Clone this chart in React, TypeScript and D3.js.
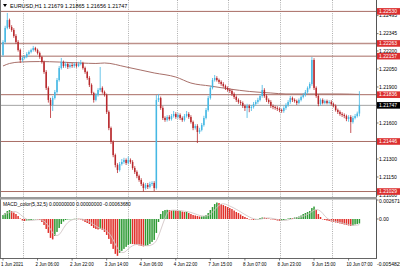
import React from "react";
import * as d3 from "d3";

const W = 400;
const H = 270;

const titleText = "EURUSD,H1  1.21679 1.21865 1.21656 1.21747";
const macdTitle = "MACD_color(5,32,5) 0.00000000 0.00000000 -0.00063680";

const firstOpen = 1.22167;
const closes = [
  1.22275, 1.22392, 1.22458, 1.224, 1.22375, 1.22325, 1.22275, 1.22208, 1.22125, 1.22142,
  1.2215, 1.22175, 1.22192, 1.22208, 1.22225, 1.22208, 1.22183, 1.2215, 1.22108, 1.22025,
  1.21892, 1.21792, 1.2175, 1.21808, 1.21858, 1.21958, 1.22058, 1.22108, 1.22075, 1.22092,
  1.22067, 1.22083, 1.22075, 1.22092, 1.22075, 1.22092, 1.221, 1.22058, 1.22025, 1.21975,
  1.21917, 1.2185, 1.21792, 1.21833, 1.21875, 1.21892, 1.21858, 1.21833, 1.21692, 1.21558,
  1.21442, 1.21333, 1.2125, 1.21208, 1.21258, 1.21275, 1.21292, 1.21267, 1.21292, 1.21275,
  1.21225, 1.21192, 1.21158, 1.21125, 1.21092, 1.21058, 1.21083, 1.21067, 1.21092, 1.211,
  1.21058, 1.21792, 1.21808, 1.21725, 1.21642, 1.21625, 1.2165, 1.21633, 1.21658, 1.21675,
  1.2165, 1.21667, 1.21642, 1.21625, 1.21658, 1.21675, 1.2165, 1.21608, 1.21558, 1.21575,
  1.21525, 1.21542, 1.21583, 1.21642, 1.21708, 1.21808, 1.21892, 1.21958, 1.21975, 1.21958,
  1.21942, 1.21925, 1.21908, 1.21892, 1.21875, 1.21867, 1.21842, 1.21817, 1.21792, 1.21775,
  1.21767, 1.21742, 1.21725, 1.21742, 1.21725, 1.21733, 1.21758, 1.21775, 1.21792, 1.21825,
  1.21875, 1.21825, 1.21792, 1.21775, 1.21742, 1.21733, 1.21725, 1.21717, 1.21708, 1.217,
  1.21725, 1.2175, 1.21775, 1.21808, 1.21792, 1.21783, 1.21767, 1.21792, 1.21817, 1.21833,
  1.21858, 1.21892, 1.21925, 1.22125, 1.21892, 1.21825, 1.21758, 1.21792, 1.21767, 1.21783,
  1.21767, 1.21775, 1.21758, 1.21742, 1.21708, 1.21692, 1.21675, 1.21667, 1.21658, 1.21633,
  1.2165, 1.21608, 1.21642, 1.21658, 1.21679, 1.21747,
];
const highs = [
  1.2229, 1.2241, 1.22517, 1.2247, 1.22415, 1.2239, 1.2234, 1.2229, 1.2222, 1.22155,
  1.22165, 1.2219, 1.22205, 1.2222, 1.22242, 1.22235, 1.2222, 1.22195, 1.2216, 1.2212,
  1.2204, 1.21905, 1.2181, 1.21825, 1.21875, 1.21975, 1.22075, 1.22142, 1.2212, 1.2211,
  1.22105, 1.221, 1.221, 1.22105, 1.22105, 1.2211, 1.22125, 1.2211, 1.2207, 1.22035,
  1.2199, 1.2193, 1.2186, 1.2185, 1.2189, 1.22067, 1.21905, 1.2187, 1.21845, 1.21705,
  1.2157, 1.21455, 1.21345, 1.21265, 1.21275, 1.213, 1.2131, 1.21305, 1.2132, 1.21305,
  1.2129, 1.2124, 1.21205, 1.2117, 1.2114, 1.21105, 1.211, 1.211, 1.2111, 1.21115,
  1.21115, 1.21833, 1.21842, 1.2182, 1.2174, 1.21655, 1.21665, 1.21665, 1.21675, 1.217,
  1.2169, 1.21685, 1.2168, 1.21655, 1.21675, 1.217, 1.2169, 1.21665, 1.2162, 1.2159,
  1.2159, 1.2156, 1.216, 1.2166, 1.21725, 1.21825, 1.2191, 1.21975, 1.22, 1.2199,
  1.2197, 1.21955, 1.2194, 1.2192, 1.21905, 1.2189, 1.2188, 1.21855, 1.2183, 1.21805,
  1.2179, 1.2178, 1.21755, 1.2176, 1.21755, 1.2175, 1.21775, 1.2179, 1.2181, 1.2184,
  1.21917, 1.2189, 1.2184, 1.21805, 1.2179, 1.21755, 1.21745, 1.2174, 1.2173, 1.2172,
  1.2174, 1.21765, 1.2179, 1.21825, 1.2182, 1.21805, 1.21795, 1.21805, 1.2183, 1.2185,
  1.21875, 1.21905, 1.2194, 1.2215, 1.2214, 1.21905, 1.2184, 1.21805, 1.21805, 1.21795,
  1.21795, 1.2179, 1.2179, 1.2177, 1.21755, 1.2172, 1.21705, 1.2169, 1.2168, 1.2167,
  1.21665, 1.21665, 1.2166, 1.21675, 1.21695, 1.21865,
];
const lows = [
  1.2215, 1.2226, 1.2238, 1.22385, 1.2236, 1.2231, 1.2226, 1.22195, 1.221, 1.2211,
  1.2213, 1.2214, 1.22165, 1.2218, 1.22195, 1.22195, 1.2217, 1.22135, 1.22095, 1.2201,
  1.21875, 1.2177, 1.21642, 1.217, 1.21795, 1.21845, 1.21945, 1.22045, 1.2206, 1.2206,
  1.2205, 1.22055, 1.2206, 1.2206, 1.2206, 1.22065, 1.2208, 1.22045, 1.2201, 1.2196,
  1.219, 1.21835, 1.2177, 1.2178, 1.2182, 1.2186, 1.21845, 1.2182, 1.21675, 1.2154,
  1.21425, 1.21315, 1.2123, 1.21183, 1.21195, 1.21245, 1.2126, 1.2125, 1.21255, 1.2126,
  1.2121, 1.21175, 1.2114, 1.2111, 1.21075, 1.21029, 1.21045, 1.2105, 1.21055, 1.21075,
  1.21033, 1.21045, 1.21775, 1.2171, 1.21625, 1.2161, 1.21612, 1.2162, 1.2162, 1.21645,
  1.21635, 1.21635, 1.21625, 1.2161, 1.21612, 1.21645, 1.21635, 1.21595, 1.2154, 1.21545,
  1.21433, 1.2151, 1.2153, 1.2157, 1.2163, 1.21695, 1.21795, 1.2188, 1.21945, 1.21945,
  1.21925, 1.2191, 1.21895, 1.21875, 1.2186, 1.2185, 1.21825, 1.218, 1.21775, 1.2176,
  1.2175, 1.21725, 1.217, 1.21642, 1.2169, 1.217, 1.2172, 1.21745, 1.2176, 1.2178,
  1.2181, 1.2181, 1.21775, 1.2176, 1.21725, 1.21715, 1.2171, 1.217, 1.2169, 1.21685,
  1.21685, 1.2171, 1.21735, 1.2176, 1.21775, 1.2177, 1.2175, 1.21755, 1.2178, 1.21805,
  1.2182, 1.21845, 1.2188, 1.2191, 1.21875, 1.2181, 1.2174, 1.21745, 1.21755, 1.21755,
  1.21755, 1.21755, 1.21745, 1.2173, 1.21695, 1.21675, 1.2166, 1.2165, 1.2164, 1.21615,
  1.2161, 1.21517, 1.21595, 1.2163, 1.21645, 1.21656,
];

const maBars = [0, 3, 8, 17, 26, 36, 43, 47, 57, 70, 80, 87, 96, 105, 114, 124, 131, 142, 156, 165];
const maValues = [
  1.22075, 1.22096, 1.22108, 1.22112, 1.22108, 1.221, 1.22096, 1.221, 1.22067, 1.22017,
  1.21983, 1.21933, 1.21908, 1.21883, 1.21863, 1.2185, 1.21842, 1.21842, 1.21842, 1.21838,
];

const macdValues = [
  0.00056, 0.00084, 0.00112, 0.00126, 0.00112, 0.00091, 0.0007, 0.00042, 0.00007, -0.00021,
  -0.00028, -0.00021, -0.0002, -0.00014, -0.00007, -0.00004, -0.00007, -0.00014, -0.00042, -0.00084,
  -0.0014, -0.00196, -0.00266, -0.00287, -0.00238, -0.00182, -0.00126, -0.0007, -0.00035, -0.00014,
  -0.00007, -0.00004, 0.0, 0.00003, 0.00004, 0.00003, -0.00007, -0.00021, -0.00042, -0.00056,
  -0.0007, -0.00098, -0.00126, -0.0014, -0.00147, -0.0014, -0.00154, -0.00182, -0.00224, -0.0028,
  -0.0035, -0.0042, -0.0049, -0.00518, -0.00476, -0.00448, -0.0042, -0.00392, -0.00364, -0.0035,
  -0.00352, -0.00357, -0.00364, -0.00371, -0.00378, -0.00385, -0.00378, -0.00371, -0.0035, -0.00322,
  -0.00294, -0.00196, -0.00042, 0.0007, 0.00112, 0.00126, 0.00129, 0.00126, 0.00119, 0.00122,
  0.00119, 0.00112, 0.00115, 0.00105, 0.00098, 0.00101, 0.00084, 0.0007, 0.00056, 0.00049,
  0.00042, 0.00035, 0.00036, 0.00042, 0.00056, 0.00084, 0.00126, 0.00168, 0.0021, 0.00231,
  0.00224, 0.0021, 0.00196, 0.00182, 0.00168, 0.00154, 0.0014, 0.00119, 0.00098, 0.00084,
  0.00063, 0.00042, 0.00028, 0.00014, 0.0, -0.00007, -0.00014, -0.00007, 0.0, 0.00014,
  0.00021, 0.0002, 0.00014, 0.00007, 0.0, -0.00007, -0.00014, -0.00021, -0.00028, -0.00021,
  -0.00014, -0.00007, 0.00007, 0.00014, 0.00013, 0.00021, 0.00028, 0.00035, 0.00049, 0.0007,
  0.00084, 0.00098, 0.00112, 0.00154, 0.00175, 0.00126, 0.0007, 0.00028, 0.0, -0.00014,
  -0.00021, -0.00028, -0.00035, -0.00042, -0.00049, -0.00056, -0.00063, -0.0007, -0.00077, -0.00084,
  -0.00091, -0.00098, -0.00091, -0.00077, -0.0007, -0.00063,
];

const levels = [1.2253, 1.22263, 1.22157, 1.21836, 1.21446, 1.21029];
const bidPrice = 1.21747;
const priceTicks = [1.21, 1.2115, 1.213, 1.2145, 1.216, 1.2175, 1.219, 1.2205, 1.222, 1.22345, 1.22495];
const macdTicks = [0.002671, 0];
const macdTickLabels = ["0.0026710", "0.00"];
const macdMinLabel = "-0.0054825";
const timeLabels = [
  "1 Jun 2021", "2 Jun 06:00", "2 Jun 22:00", "3 Jun 14:00", "4 Jun 06:00", "4 Jun 22:00",
  "7 Jun 15:00", "8 Jun 07:00", "8 Jun 23:00", "9 Jun 15:00", "10 Jun 07:00",
];
const timeLabelBars = [0, 16, 32, 48, 64, 80, 96, 112, 128, 144, 160];
const gridBars = [9.3, 33.6, 57.8, 80.6, 104.2, 128.2, 152.3];

const BULL = "#45b8e4";
const BEAR = "#b8282c";
const LEVEL = "#a86c64";
const FONT = "'Liberation Sans', Arial, sans-serif";

export default function App() {
  const plotL = 1;
  const plotR = 376;
  const mainTop = 0;
  const mainBottom = 197;
  const macdTop = 200;
  const macdBottom = 258;

  const x = d3.scaleLinear().domain([0, closes.length - 1]).range([3, 359.4]);
  const y = d3.scaleLinear().domain([1.209833, 1.22625]).range([mainBottom, mainTop]);
  const ym = d3.scaleLinear().domain([-0.0054825, 0.002671]).range([macdBottom, macdTop]);

  const opens = [firstOpen, ...closes.slice(0, -1)];
  const candles = closes.map((c, i) => ({ i, o: opens[i], c, h: highs[i], l: lows[i] }));

  const maLine = d3
    .line<number>()
    .x((_, k) => x(maBars[k]))
    .y((v) => y(v))
    .curve(d3.curveMonotoneX)(maValues);

  const signal = macdValues.map((_, i) => {
    const s = macdValues.slice(Math.max(0, i - 4), i + 1);
    return d3.mean(s) as number;
  });
  const sigLine = d3
    .line<number>()
    .x((_, i) => x(i))
    .y((v) => ym(v))(signal);

  let prevColor = "#2e9a34";
  const macdColors = macdValues.map((v, i) => {
    if (i === 0) return prevColor;
    if (v > macdValues[i - 1]) prevColor = "#2e9a34";
    else if (v < macdValues[i - 1]) prevColor = "#e0302a";
    return prevColor;
  });

  const fmt = d3.format(".5f");
  const bw = 1.5;

  return (
    <div style={{ position: "fixed", left: 0, top: 0, width: W, height: H, background: "#fff" }}>
      <svg width={W} height={H} style={{ display: "block" }} fontFamily={FONT}>
        <rect x={0} y={0} width={W} height={H} fill="#fff" />
        <defs>
          <clipPath id="mainClip">
            <rect x={plotL} y={mainTop} width={plotR - plotL} height={mainBottom - mainTop} />
          </clipPath>
          <clipPath id="macdClip">
            <rect x={plotL} y={macdTop} width={plotR - plotL} height={macdBottom - macdTop} />
          </clipPath>
        </defs>

        {/* vertical dotted grid */}
        {gridBars.map((b, k) => (
          <line
            key={"g" + k}
            x1={Math.round(x(b)) + 0.5}
            x2={Math.round(x(b)) + 0.5}
            y1={0}
            y2={macdBottom}
            stroke="#9a9a9a"
            strokeWidth={0.8}
            strokeDasharray="1,1.2"
          />
        ))}

        <g clipPath="url(#mainClip)">
          {/* level lines */}
          {levels.map((lv, k) => (
            <line
              key={"lv" + k}
              x1={plotL}
              x2={plotR}
              y1={y(lv)}
              y2={y(lv)}
              stroke={LEVEL}
              strokeWidth={k === 1 ? 1.6 : 1}
              opacity={k === 1 ? 0.75 : 1}
            />
          ))}
          {/* bid line */}
          <line x1={plotL} x2={plotR} y1={y(bidPrice)} y2={y(bidPrice)} stroke="#8c8c8c" strokeWidth={0.8} />
          {/* moving average */}
          <path d={maLine || ""} fill="none" stroke="#a8706a" strokeWidth={1} />
          {/* candles */}
          {candles.map((d) => {
            const up = d.c >= d.o;
            const col = up ? BULL : BEAR;
            const top = y(Math.max(d.o, d.c));
            const bot = y(Math.min(d.o, d.c));
            return (
              <g key={"c" + d.i}>
                <line x1={x(d.i)} x2={x(d.i)} y1={y(d.h)} y2={y(d.l)} stroke={col} strokeWidth={0.8} />
                <rect
                  x={x(d.i) - bw / 2}
                  y={top}
                  width={bw}
                  height={Math.max(0.8, bot - top)}
                  fill={col}
                />
              </g>
            );
          })}
        </g>

        {/* title */}
        <path d="M3,4 L7,4 L5,7 Z" fill="#000" />
        <text x={10} y={7.5} fontSize={5.5} fill="#000">
          {titleText}
        </text>

        {/* MACD panel */}
        <g clipPath="url(#macdClip)">
          {macdValues.map((v, i) => {
            const y0 = ym(0);
            const y1 = ym(v);
            return (
              <rect
                key={"m" + i}
                x={x(i) - bw / 2}
                y={Math.min(y0, y1)}
                width={bw}
                height={Math.max(0.4, Math.abs(y1 - y0))}
                fill={macdColors[i]}
              />
            );
          })}
          <path d={sigLine || ""} fill="none" stroke="#d2c6c6" strokeWidth={0.9} />
        </g>
        <text x={3} y={205.5} fontSize={4.9} fill="#000">
          {macdTitle}
        </text>

        {/* frames */}
        <line x1={0.5} x2={0.5} y1={0} y2={macdBottom} stroke="#777" strokeWidth={1} />
        <line x1={plotR + 0.5} x2={plotR + 0.5} y1={0} y2={macdBottom} stroke="#555" strokeWidth={1} />
        <rect x={0} y={mainBottom} width={plotR + 1} height={2.5} fill="#9a9a9a" />
        <line x1={0} x2={plotR + 1} y1={macdBottom + 0.5} y2={macdBottom + 0.5} stroke="#666" strokeWidth={1} />

        {/* price axis ticks and labels */}
        {priceTicks.map((t, k) => (
          <g key={"pt" + k}>
            <line x1={plotR} x2={plotR + 2.5} y1={y(t)} y2={y(t)} stroke="#555" strokeWidth={0.8} />
            <text x={379} y={y(t) + 1.8} fontSize={5} fill="#000">
              {fmt(t)}
            </text>
          </g>
        ))}
        {levels.map((lv, k) => (
          <g key={"lb" + k}>
            <rect x={377} y={y(lv) - 3.3} width={23} height={6.6} fill="#dc2f2f" />
            <text x={379} y={y(lv) + 1.8} fontSize={5} fill="#fff">
              {fmt(lv)}
            </text>
          </g>
        ))}
        <rect x={377} y={y(bidPrice) - 3.3} width={23} height={6.6} fill="#000" />
        <text x={379} y={y(bidPrice) + 1.8} fontSize={5} fill="#fff">
          {fmt(bidPrice)}
        </text>

        {/* macd axis labels */}
        {macdTicks.map((t, k) => (
          <g key={"mt" + k}>
            <line x1={plotR} x2={plotR + 2.5} y1={ym(t)} y2={ym(t)} stroke="#555" strokeWidth={0.8} />
            <text x={379} y={(k === 0 ? ym(t) + 3 : ym(t) + 1.8)} fontSize={5} fill="#000">
              {macdTickLabels[k]}
            </text>
          </g>
        ))}
        <text x={377} y={266} fontSize={5} fill="#000">
          {macdMinLabel}
        </text>

        {/* time axis */}
        {timeLabelBars.map((b, k) => (
          <g key={"tl" + k}>
            <line x1={x(b)} x2={x(b)} y1={macdBottom} y2={macdBottom + 2.5} stroke="#555" strokeWidth={0.8} />
            <text x={x(b) - 2} y={265.5} fontSize={4.5} fill="#000">
              {timeLabels[k]}
            </text>
          </g>
        ))}
      </svg>
    </div>
  );
}
